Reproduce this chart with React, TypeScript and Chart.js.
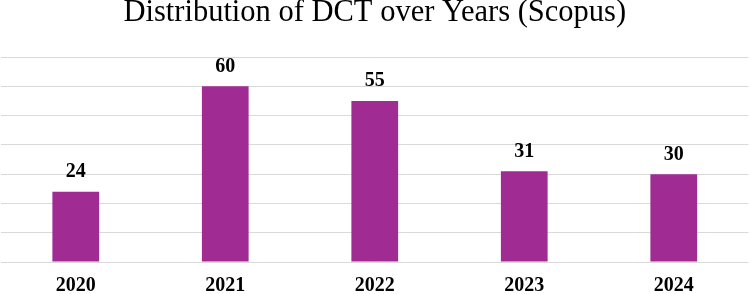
import React, { useEffect, useRef } from "react";
import { Chart, registerables } from "chart.js";

Chart.register(...registerables);

const categories: string[] = ["2020", "2021", "2022", "2023", "2024"];
const values: number[] = [24, 60, 55, 31, 30];
const chartTitle = "Distribution of DCT over Years (Scopus)";
const yMax = 70;
const yStep = 10;

const SERIF = "'Liberation Serif', 'Times New Roman', Times, serif";

const valueLabels = {
  id: "valueLabels",
  afterDatasetsDraw(chart: any) {
    const ctx = chart.ctx;
    const meta = chart.getDatasetMeta(0);
    ctx.save();
    ctx.font = `bold 20px ${SERIF}`;
    ctx.fillStyle = "#000000";
    ctx.textAlign = "center";
    ctx.textBaseline = "alphabetic";
    meta.data.forEach((bar: any, i: number) => {
      ctx.fillText(String(values[i]), bar.x, bar.y - 14.5);
    });
    ctx.restore();
  },
};

export default function App() {
  const canvasRef = useRef<HTMLCanvasElement | null>(null);

  useEffect(() => {
    document.body.style.margin = "0";
    const canvas = canvasRef.current;
    if (!canvas) return;
    const chart = new Chart(canvas, {
      type: "bar",
      data: {
        labels: categories,
        datasets: [
          {
            data: values,
            backgroundColor: "#A02B93",
            borderWidth: 0,
            categoryPercentage: 1,
            barPercentage: 0.3125,
          },
        ],
      },
      plugins: [valueLabels],
      options: {
        animation: false,
        responsive: false,
        maintainAspectRatio: false,
        layout: { padding: { left: 1, right: 1.5, top: 0, bottom: 0 } },
        plugins: {
          legend: { display: false },
          tooltip: { enabled: false },
          title: {
            display: true,
            text: chartTitle,
            color: "#000000",
            font: { family: SERIF, size: 30.5, weight: "normal", lineHeight: 0.86 },
            padding: { top: 0, bottom: 30.8 },
          },
        },
        scales: {
          x: {
            grid: { display: false, drawTicks: false },
            border: { display: false },
            ticks: {
              color: "#000000",
              font: { family: SERIF, size: 20, weight: "bold", lineHeight: 0.8 },
              padding: 16,
              maxRotation: 0,
            },
            afterFit: (scale: any) => {
              scale.height = 32;
            },
          },
          y: {
            min: 0,
            max: yMax,
            grid: { color: "#D9D9D9", lineWidth: 1, drawTicks: false },
            border: { display: false },
            ticks: { display: false, stepSize: yStep },
          },
        },
      },
    });
    return () => chart.destroy();
  }, []);

  return (
    <div style={{ position: "absolute", left: 0, top: 0, width: 750, height: 294 }}>
      <canvas ref={canvasRef} width={750} height={294} style={{ width: 750, height: 294 }} />
    </div>
  );
}
